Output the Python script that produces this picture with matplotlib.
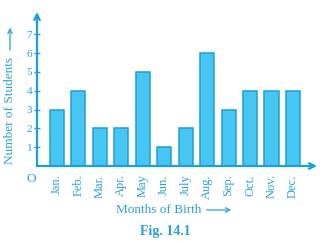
import matplotlib
matplotlib.use("Agg")
import matplotlib.pyplot as plt

months = ["Jan.", "Feb.", "Mar.", "Apr.", "May", "Jun.", "July", "Aug.", "Sep.", "Oct.", "Nov.", "Dec."]
students = [3, 4, 2, 2, 5, 1, 2, 6, 3, 4, 4, 4]
yticks = [1, 2, 3, 4, 5, 6, 7]

FILL = "#47c6f4"
EDGE = "#1e9edb"
TXT = "#2aa2d8"
SERIF = "Liberation Serif"

W, H = 320, 241
fig = plt.figure(figsize=(W / 100, H / 100), dpi=100)

def fx(px):
    return px / W

def fy(py):
    return 1 - py / H

x0, x1 = 37, 317
y0, y1 = 166, 12
ax = fig.add_axes([fx(x0), fy(y0), fx(x1) - fx(x0), fy(y1) - fy(y0)])
ax.patch.set_alpha(0)

xs = list(range(1, len(months) + 1))
ax.bar(xs, students, width=0.66, color=FILL, edgecolor=EDGE, linewidth=1.1, zorder=2)

xmin, xmax = 0.07, 13.12
ymax = 8.19
ax.set_xlim(xmin, xmax)
ax.set_ylim(0, ymax)

for s in ax.spines.values():
    s.set_visible(False)

ax.set_yticks(yticks)
ax.set_yticklabels([str(v) for v in yticks], fontfamily=SERIF, fontsize=8, color=TXT)
ax.tick_params(axis="y", direction="inout", length=5, width=1.0, color=EDGE, pad=1)
ax.set_xticks(xs)
ax.set_xticklabels(months, rotation=90, fontfamily=SERIF, fontsize=9, color=TXT, va="top", ha="center")
ax.tick_params(axis="x", length=0, pad=6)

# axes with arrowheads
ax.annotate("", xy=(xmax, 0), xytext=(xmin, 0), xycoords="data",
            arrowprops=dict(arrowstyle="->", color=EDGE, lw=1.6, shrinkA=0, shrinkB=0,
                            mutation_scale=10), annotation_clip=False, zorder=3)
ax.annotate("", xy=(xmin, ymax), xytext=(xmin, 0), xycoords="data",
            arrowprops=dict(arrowstyle="->", color=EDGE, lw=1.6, shrinkA=0, shrinkB=0,
                            mutation_scale=10), annotation_clip=False, zorder=3)

# origin
fig.text(fx(31), fy(179), "O", fontfamily=SERIF, fontsize=9.5, color=TXT, ha="center", va="center")

# y label with arrow
fig.text(fx(10), fy(111), "Number of Students", fontfamily=SERIF, fontsize=9.5, color=TXT,
         rotation=90, ha="center", va="center")
fig.add_artist(matplotlib.patches.FancyArrowPatch((fx(10), fy(53)), (fx(10), fy(25)),
               transform=fig.transFigure, arrowstyle="->", color=TXT, lw=0.9, mutation_scale=8))

# x label with arrow
fig.text(fx(159), fy(210), "Months of Birth", fontfamily=SERIF, fontsize=9.5, color=TXT,
         ha="center", va="center")
fig.add_artist(matplotlib.patches.FancyArrowPatch((fx(204), fy(210)), (fx(234), fy(210)),
               transform=fig.transFigure, arrowstyle="->", color=TXT, lw=0.9, mutation_scale=8))

fig.text(fx(165), fy(231), "Fig. 14.1", fontfamily=SERIF, fontsize=10, fontweight="bold",
         color=TXT, ha="center", va="center")

fig.savefig("out.png", dpi=100)
